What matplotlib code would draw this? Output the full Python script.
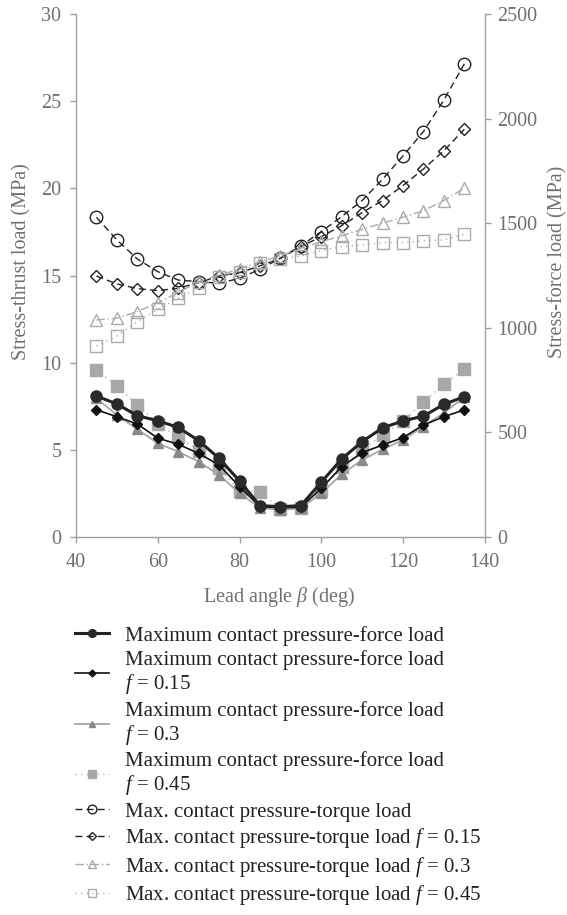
import matplotlib.pyplot as plt
import numpy as np

plt.rcParams['font.family'] = ['Liberation Serif', 'DejaVu Serif']
plt.rcParams['mathtext.fontset'] = 'custom'
plt.rcParams['mathtext.it'] = 'Liberation Serif:italic'
plt.rcParams['mathtext.rm'] = 'Liberation Serif'

angle = [45, 50, 55, 60, 65, 70, 75, 80, 85, 90, 95, 100, 105, 110, 115, 120, 125, 130, 135]

# force load (right axis, MPa)
force_f0 = [674, 636, 580, 556, 524, 461, 376, 268, 150, 145, 150, 262, 373, 456, 522, 555, 578, 634, 671]
force_f015 = [608, 575, 540, 473, 443, 400, 344, 241, 145, 140, 142, 233, 336, 403, 440, 475, 536, 575, 608]
force_f03 = [663, 583, 515, 448, 408, 360, 297, 209, 140, 129, 138, 209, 300, 368, 419, 464, 528, 594, 668]
force_f045 = [798, 722, 631, 540, 479, 413, 332, 220, 217, 133, 138, 222, 333, 416, 488, 555, 643, 732, 803]

# torque load (left axis, MPa)
torque_f0 = [18.34, 17.04, 15.95, 15.22, 14.74, 14.65, 14.55, 14.84, 15.36, 15.99, 16.70, 17.52, 18.38, 19.30, 20.52, 21.86, 23.26, 25.07, 27.14]
torque_f015 = [14.97, 14.52, 14.25, 14.13, 14.27, 14.59, 14.97, 15.16, 15.55, 15.99, 16.66, 17.23, 17.86, 18.61, 19.30, 20.16, 21.11, 22.16, 23.39]
torque_f03 = [12.45, 12.55, 12.93, 13.44, 14.02, 14.65, 15.03, 15.36, 15.80, 16.12, 16.56, 16.94, 17.27, 17.65, 18.00, 18.34, 18.72, 19.30, 20.01]
torque_f045 = [10.96, 11.53, 12.35, 13.06, 13.69, 14.27, 14.94, 15.22, 15.70, 15.93, 16.12, 16.43, 16.66, 16.75, 16.89, 16.89, 17.00, 17.04, 17.37]

axc = '#a0a0a0'
txc = '#707070'
fs = 14.5

fig = plt.figure(figsize=(5.67, 9.15), dpi=100)
ax = fig.add_axes([0.134, 0.4131, 0.721, 0.5716])
ax2 = ax.twinx()

# torque curves on the left axis
h5, = ax.plot(angle, torque_f0, color='#222222', ls=(0, (5, 3)), lw=1.0, marker='o', ms=9,
              mfc='none', mec='#222222', mew=1.0)
h6, = ax.plot(angle, torque_f015, color='#222222', ls=(0, (5, 3)), lw=1.0, marker='D', ms=6,
              mfc='none', mec='#222222', mew=1.0)
h7, = ax.plot(angle, torque_f03, color='#aaaaaa', ls=(0, (6, 2, 1, 2)), lw=1.0, marker='^', ms=8,
              mfc='none', mec='#aaaaaa', mew=1.0)
h8, = ax.plot(angle, torque_f045, color='#aaaaaa', ls=(0, (1, 3)), lw=1.0, marker='s', ms=8,
              mfc='none', mec='#aaaaaa', mew=1.0)

# force curves on the right axis
h4, = ax2.plot(angle, force_f045, color='#b5b5b5', ls=(0, (1, 3)), lw=1.0, marker='s', ms=9,
               mfc='#a8a8a8', mec='#a8a8a8')
h3, = ax2.plot(angle, force_f03, color='#a8a8a8', ls='-', lw=1.3, marker='^', ms=7,
               mfc='#8a8a8a', mec='#8a8a8a')
h2, = ax2.plot(angle, force_f015, color='#111111', ls='-', lw=1.2, marker='D', ms=5,
               mfc='#111111', mec='#111111')
h1, = ax2.plot(angle, force_f0, color='#222222', ls='-', lw=2.2, marker='o', ms=8,
               mfc='#2a2a2a', mec='#2a2a2a')

ax.set_xlim(40, 140)
ax.set_ylim(0, 30)
ax2.set_ylim(0, 2500)
ax.set_xticks(np.arange(40, 141, 20))
ax.set_yticks(np.arange(0, 31, 5))
ax2.set_yticks(np.arange(0, 2501, 500))

for a in (ax, ax2):
    for s in a.spines.values():
        s.set_color(axc)
        s.set_linewidth(1.0)
    a.spines['top'].set_visible(False)
    a.tick_params(colors=axc, labelcolor=txc, labelsize=fs, length=4.5, width=1.0)
ax.spines['right'].set_visible(False)
ax2.spines['left'].set_visible(False)
ax2.spines['bottom'].set_visible(False)
ax.tick_params(axis='x', pad=7)
ax.tick_params(axis='y', pad=6)
ax2.tick_params(axis='y', pad=4.5)

ax.set_xlabel(r'Lead angle $\beta$ (deg)', color=txc, fontsize=fs)
ax.set_ylabel('Stress-thrust load (MPa)', color=txc, fontsize=fs)
ax2.set_ylabel('Stress-force load (MPa)', color=txc, fontsize=fs, rotation=90)
ax.xaxis.set_label_coords(0.496, -0.092)
ax.yaxis.set_label_coords(-0.110, 0.526)
ax2.yaxis.set_label_coords(1.154, 0.526)

labels = ['Maximum contact pressure-force load',
          'Maximum contact pressure-force load\n$f$ = 0.15',
          'Maximum contact pressure-force load\n$f$ = 0.3',
          'Maximum contact pressure-force load\n$f$ = 0.45',
          'Max. contact pressure-torque load',
          'Max. contact pressure-torque load $f$ = 0.15',
          'Max. contact pressure-torque load $f$ = 0.3',
          'Max. contact pressure-torque load $f$ = 0.45']
leg = fig.legend([h1, h2, h3, h4, h5, h6, h7, h8], labels, loc='upper left',
                 bbox_to_anchor=(0.1, 0.3365), frameon=False, fontsize=15,
                 handlelength=1.6, handletextpad=0.8, labelspacing=0.22, markerscale=0.7)
for t in leg.get_texts():
    t.set_color('#222222')
    t.set_linespacing(1.12)

fig.savefig('out.png', dpi=100)
